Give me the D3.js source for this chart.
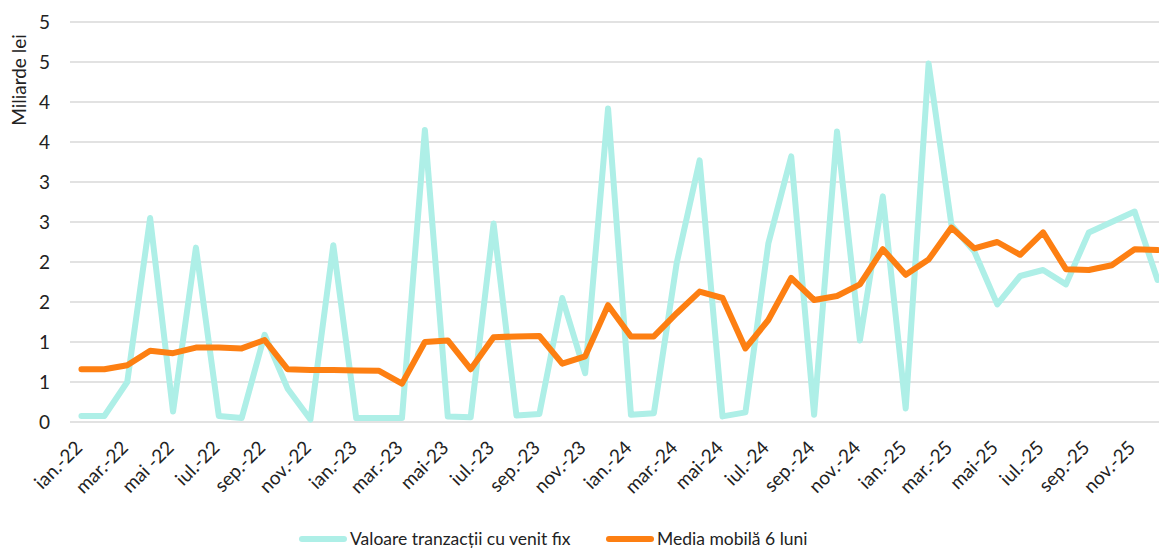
<!DOCTYPE html>
<html><head><meta charset="utf-8">
<script src="https://cdn.jsdelivr.net/npm/d3@7"></script>
<style>
html,body{margin:0;padding:0;background:#fff;}
svg{display:block;}
text{font-family:Lato,"Open Sans",sans-serif;fill:#222;}
</style></head>
<body>
<svg id="chart" width="1159" height="548"></svg>
<script>
const months = [
"ian.-22","feb.-22","mar.-22","apr.-22","mai -22","iun.-22","iul.-22","aug.-22","sep.-22","oct.-22","nov.-22","dec.-22",
"ian.-23","feb.-23","mar.-23","apr.-23","mai-23","iun.-23","iul.-23","aug.-23","sep.-23","oct.-23","nov.-23","dec.-23",
"ian.-24","feb.-24","mar.-24","apr.-24","mai-24","iun.-24","iul.-24","aug.-24","sep.-24","oct.-24","nov.-24","dec.-24",
"ian.-25","feb.-25","mar.-25","apr.-25","mai-25","iun.-25","iul.-25","aug.-25","sep.-25","oct.-25","nov.-25","dec.-25"];
const xTickLabels = months.filter((d,i)=>i%2===0);
const valoare = [
0.075,0.075,0.5,2.55,0.13,2.18,0.075,0.05,1.09,0.42,0.03,2.21,
0.05,0.05,0.05,3.65,0.07,0.06,2.48,0.08,0.1,1.55,0.61,3.92,
0.09,0.11,1.99,3.27,0.07,0.12,2.23,3.32,0.09,3.63,1.02,2.82,
0.17,4.48,2.46,2.13,1.47,1.825,1.9,1.72,2.37,2.5,2.63,1.775];
const media = [
0.66,0.66,0.71,0.89,0.86,0.93,0.93,0.92,1.025,0.66,0.65,0.65,
0.645,0.64,0.48,1.0,1.02,0.66,1.06,1.07,1.075,0.73,0.82,1.46,
1.07,1.07,1.36,1.63,1.55,0.92,1.275,1.80,1.525,1.575,1.72,2.16,
1.84,2.03,2.43,2.17,2.25,2.09,2.37,1.91,1.9,1.96,2.16,2.15];
const yTickValues = [0,0.5,1,1.5,2,2.5,3,3.5,4,4.5,5];
const yTickLabels = ["0","1","1","2","2","3","3","4","4","5","5"];
const seriesNames = ["Valoare tranzacții cu venit fix","Media mobilă 6 luni"];
const seriesColors = ["#aeefe7","#fd7f12"];

const svg = d3.select("#chart");
const pLeft = 70, pRight = 1169, pTop = 22, pBottom = 422;
const x = d3.scaleBand().domain(months).range([pLeft, pRight]);
const y = d3.scaleLinear().domain([0,5]).range([pBottom, pTop]);
const cx = d => x(d) + x.bandwidth()/2;

// gridlines
svg.append("g").selectAll("line").data(yTickValues).join("line")
  .attr("x1", pLeft).attr("x2", pRight)
  .attr("y1", d=>y(d)).attr("y2", d=>y(d))
  .attr("stroke", "#d9d9d9").attr("stroke-width", 1.5);

// y axis
const yAxis = d3.axisLeft(y).tickValues(yTickValues)
  .tickFormat((d,i)=>yTickLabels[i]).tickSize(0).tickPadding(20);
const gy = svg.append("g").attr("transform",`translate(${pLeft},0)`).call(yAxis);
gy.select(".domain").remove();
gy.selectAll("text").style("font-size","19px").style("font-family","Lato, sans-serif").attr("fill","#222");

// x axis
const xAxis = d3.axisBottom(x).tickValues(xTickLabels).tickSize(0);
const gx = svg.append("g").attr("transform",`translate(0,${pBottom})`).call(xAxis);
gx.select(".domain").remove();
gx.selectAll("text")
  .style("font-size","19px").style("font-family","Lato, sans-serif").attr("fill","#222")
  .attr("text-anchor","end")
  .attr("dy",null).attr("y",null)
  .attr("transform",`translate(2,27) rotate(-45)`);

const line = d3.line().x((d,i)=>cx(months[i])).y(d=>y(d));
[valoare, media].forEach((s,k)=>{
  svg.append("path").datum(s)
    .attr("d", line)
    .attr("fill","none")
    .attr("stroke", seriesColors[k])
    .attr("stroke-width", 6)
    .attr("stroke-linejoin","round")
    .attr("stroke-linecap","round");
});

// y label
svg.append("text")
  .attr("transform","translate(26,80) rotate(-90)")
  .attr("text-anchor","middle")
  .style("font-size","19px")
  .text("Miliarde lei");

// legend
const legendX = [299, 606];
seriesNames.forEach((n,k)=>{
  const g = svg.append("g").attr("transform",`translate(${legendX[k]},539)`);
  g.append("line").attr("x1",3).attr("x2",45).attr("y1",0).attr("y2",0)
    .attr("stroke",seriesColors[k]).attr("stroke-width",6).attr("stroke-linecap","round");
  g.append("text").attr("x",51).attr("y",5.5).style("font-size","17.5px").text(n);
});
</script>
</body></html>
